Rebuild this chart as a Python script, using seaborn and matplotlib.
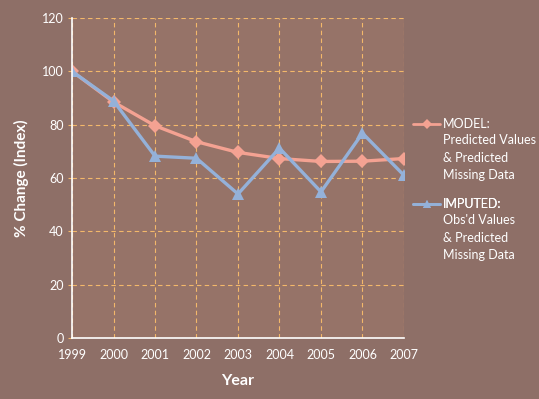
import pandas as pd
import numpy as np
import matplotlib
matplotlib.use("Agg")
import matplotlib.pyplot as plt
import seaborn as sns

# data
years = [1999, 2000, 2001, 2002, 2003, 2004, 2005, 2006, 2007]
model_vals = [100, 88.5, 79.6, 73.6, 69.6, 67.3, 66.2, 66.3, 67.3]
imputed_vals = [100, 88.9, 68.2, 67.4, 54.0, 71.2, 54.8, 76.8, 61.0]
series_names = ["MODEL:", "IMPUTED:"]
series_notes = ["Predicted Values\n& Predicted\nMissing Data",
                "Obs'd Values\n& Predicted\nMissing Data"]

def main():
    df = pd.DataFrame({
        "Year": years * 2,
        "Value": model_vals + imputed_vals,
        "Series": [series_names[0]] * len(years) + [series_names[1]] * len(years),
    })

    sns.set_theme(style="white")
    plt.rcParams["font.family"] = ["Lato", "DejaVu Sans"]

    bg = "#8E6F67"
    grid_col = "#F3B86A"
    fig = plt.figure(figsize=(5.39, 3.99), dpi=100, facecolor=bg)
    ax = fig.add_axes([0.1336, 0.1529, 0.6159, 0.802])
    ax.set_facecolor("#967368")

    palette = {series_names[0]: "#F4A292", series_names[1]: "#94B1D9"}
    sns.lineplot(data=df, x="Year", y="Value", hue="Series", style="Series",
                 markers={series_names[0]: "D", series_names[1]: "^"},
                 dashes=False, palette=palette, linewidth=2.4,
                 markersize=7, markeredgewidth=0, ax=ax, legend=True)
    for line in ax.get_lines():
        if line.get_marker() == "^":
            line.set_markersize(9)

    ax.set_xlim(1999, 2007)
    ax.set_ylim(0, 120)
    ax.set_xticks(years)
    ax.set_yticks(np.arange(0, 121, 20))
    ax.grid(True, color=grid_col, linestyle=(0, (4, 3)), linewidth=0.8)
    ax.set_axisbelow(True)

    for side in ["top", "right"]:
        ax.spines[side].set_visible(False)
    for side in ["left", "bottom"]:
        ax.spines[side].set_color("white")
        ax.spines[side].set_linewidth(1.2)

    ax.tick_params(axis="x", colors="white", labelsize=9, length=0, pad=8, bottom=True)
    ax.tick_params(axis="y", colors=grid_col, labelcolor="white", labelsize=9,
                   length=3, width=0.8, pad=3, left=True)
    ax.set_xlabel("Year", color="white", fontsize=11.5, fontweight="bold", labelpad=9)
    ax.set_ylabel("% Change (Index)", color="white", fontsize=11, fontweight="bold", labelpad=9)

    # one legend per series, handle on the first line, notes below
    handles, labels = ax.get_legend_handles_labels()
    ax.get_legend().remove()
    anchors = [0.669, 0.419]
    for h, lab, note, ya in zip(handles, labels, series_notes, anchors):
        h.set_markersize(5 if h.get_marker() == "D" else 6)
        h.set_linewidth(2)
        leg = ax.legend([h], [lab], loc="center left", bbox_to_anchor=(1.027, ya),
                        frameon=False, fontsize=9, handlelength=2.2, handletextpad=0.2,
                        borderpad=0, borderaxespad=0)
        txt = leg.get_texts()[0]
        txt.set_color("white")
        ax.add_artist(leg)
        note_txt = ax.annotate(note, xy=(0, 0), xycoords=txt, xytext=(0, -3),
                               textcoords="offset points", va="top", ha="left",
                               color="white", fontsize=9, linespacing=1.55,
                               annotation_clip=False)
        note_txt.set_zorder(10)

    fig.savefig("out.png", dpi=100, facecolor=bg)
    plt.close(fig)

if __name__ == "__main__":
    main()
